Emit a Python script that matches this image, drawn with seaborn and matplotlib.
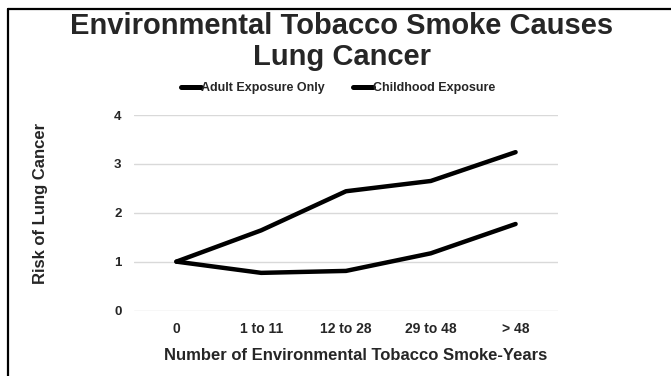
import matplotlib
matplotlib.use("Agg")
import matplotlib.pyplot as plt
import matplotlib.lines as mlines
import seaborn as sns
import pandas as pd

categories = ["0", "1 to 11", "12 to 28", "29 to 48", "> 48"]
adult_only = [1.0, 0.77, 0.81, 1.17, 1.77]
childhood = [1.0, 1.64, 2.44, 2.65, 3.24]
series_names = ["Adult Exposure Only", "Childhood Exposure"]
y_ticks = [0, 1, 2, 3, 4]

df = pd.DataFrame({
    "period": categories * 2,
    "risk": adult_only + childhood,
    "series": [series_names[0]] * len(categories) + [series_names[1]] * len(categories),
})

sns.set_theme(style="white")
plt.rcParams["font.family"] = ["Liberation Sans", "DejaVu Sans"]
plt.rcParams["font.weight"] = "bold"

W, H = 671, 376
fig = plt.figure(figsize=(W / 100, H / 100), dpi=100)
ax = fig.add_axes([134 / W, 1 - 310.5 / H, 424 / W, 195.5 / H])

sns.lineplot(data=df, x="period", y="risk", hue="series", sort=False,
             palette=["black", "black"], linewidth=3.2, ax=ax, legend=False,
             solid_capstyle="round", solid_joinstyle="round", zorder=3)

ax.set_xlim(-0.5, len(categories) - 0.5)
ax.set_ylim(0, 4)
ax.set_yticks(y_ticks)
ax.set_yticklabels([str(t) for t in y_ticks], fontsize=9.5, fontweight="bold")
ax.set_xticks(range(len(categories)))
ax.set_xticklabels(categories, fontsize=10, fontweight="bold")
ax.tick_params(axis="x", length=0, pad=8)
ax.tick_params(axis="y", length=0, pad=9)
ax.yaxis.grid(True, color="#d9d9d9", linewidth=1)
ax.xaxis.grid(False)
for s in ax.spines.values():
    s.set_visible(False)
for ln in ax.lines:
    ln.set_clip_on(False)

ax.set_xlabel("Number of Environmental Tobacco Smoke-Years", fontsize=12,
              fontweight="bold")
ax.xaxis.set_label_coords((356 - 134) / 424, (310.5 - 355) / 195.5)
ax.xaxis.label.set_va("center")
ax.set_ylabel("Risk of Lung Cancer", fontsize=12, fontweight="bold")
ax.yaxis.set_label_coords((41 - 134) / 424, (310.5 - 203) / 195.5)
ax.yaxis.label.set_va("center")

fig.text(341.5 / W, 1 - 25.5 / H, "Environmental Tobacco Smoke Causes",
         ha="center", va="center", fontsize=21, fontweight="bold")
fig.text(341.5 / W, 1 - 57 / H, "Lung Cancer",
         ha="center", va="center", fontsize=21, fontweight="bold")

handles = [mlines.Line2D([], [], color="black", linewidth=3.6,
                         solid_capstyle="round") for _ in series_names]
fig.legend(handles, series_names, loc="center", bbox_to_anchor=(338 / W, 1 - 88 / H),
           ncol=2, frameon=False, handlelength=1.6, handletextpad=0.05,
           columnspacing=2.2, borderpad=0, prop={"size": 9, "weight": "bold"})

# open frame along the top and left edges
fig.add_artist(mlines.Line2D([8 / W, 1.0], [1 - 8.5 / H, 1 - 8.5 / H],
                             color="black", linewidth=1.6,
                             transform=fig.transFigure))
fig.add_artist(mlines.Line2D([8 / W, 8 / W], [1 - 8.5 / H, 0.0],
                             color="black", linewidth=1.6,
                             transform=fig.transFigure))

fig.savefig("out.png", dpi=100)
